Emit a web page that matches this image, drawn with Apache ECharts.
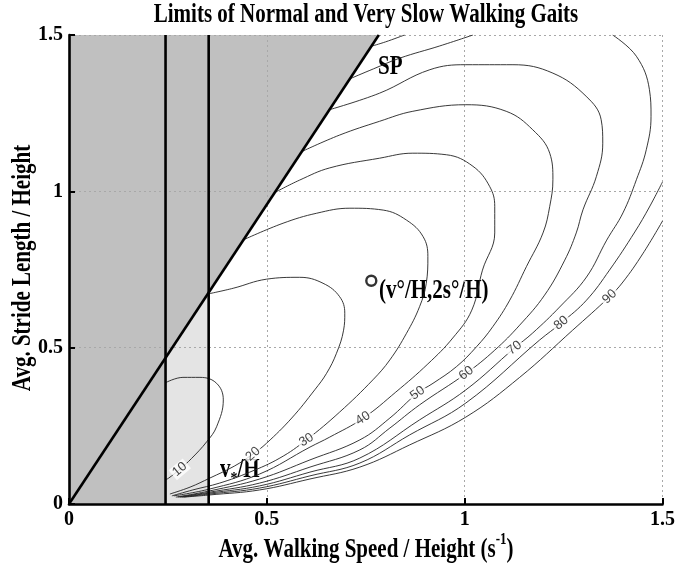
<!DOCTYPE html>
<html>
<head>
<meta charset="utf-8">
<script src="https://cdn.jsdelivr.net/npm/echarts@6/dist/echarts.min.js"></script>
<style>
  html, body { margin: 0; padding: 0; background: #fff; }
  #main { width: 678px; height: 567px; }
</style>
</head>
<body>
<div id="main"></div>
<script>
// speed limits (v/H) and the step-length line SP
var vMin = 0.244;
var vStar = 0.353;
var spLine = [[0, 0], [0.783, 1.5]];
var optimum = [[0.764, 0.714]];
var axisMax = 1.5;

// contour lines; each one is a list of visible pieces
var contour10 = [[[0.244, 0.388], [0.288, 0.405], [0.331, 0.405], [0.373, 0.386], [0.390, 0.333], [0.373, 0.247], [0.348, 0.199], [0.310, 0.146], [0.280, 0.111], [0.251, 0.082], [0.244, 0.078]]];
var contour20 = [[[0.352, 0.672], [0.415, 0.690], [0.499, 0.719], [0.583, 0.725], [0.642, 0.706], [0.684, 0.663], [0.697, 0.610], [0.694, 0.556], [0.676, 0.482], [0.651, 0.418], [0.621, 0.365], [0.563, 0.275], [0.499, 0.194], [0.465, 0.160], [0.419, 0.122], [0.356, 0.083], [0.306, 0.054], [0.255, 0.032]]];
var contour30 = [[[0.441, 0.845], [0.541, 0.898], [0.626, 0.930], [0.710, 0.946], [0.794, 0.940], [0.853, 0.908], [0.895, 0.855], [0.907, 0.791], [0.903, 0.706], [0.886, 0.631], [0.853, 0.546], [0.811, 0.461], [0.768, 0.397], [0.684, 0.294], [0.600, 0.205], [0.533, 0.147], [0.457, 0.102], [0.381, 0.067], [0.313, 0.045], [0.260, 0.026]]];
var contour40 = [[[0.520, 0.996], [0.583, 1.036], [0.659, 1.075], [0.785, 1.106], [0.869, 1.122], [0.954, 1.117], [1.021, 1.080], [1.063, 1.016], [1.076, 0.952], [1.076, 0.867], [1.045, 0.748], [1.018, 0.620], [0.970, 0.531], [0.907, 0.448], [0.826, 0.358], [0.743, 0.274], [0.659, 0.214], [0.609, 0.182], [0.482, 0.096], [0.356, 0.048], [0.265, 0.026]]];
var contour50 = [[[0.588, 1.127], [0.684, 1.180], [0.785, 1.224], [0.869, 1.256], [1.003, 1.277], [1.105, 1.256], [1.172, 1.197], [1.215, 1.122], [1.223, 1.037], [1.215, 0.952], [1.198, 0.867], [1.156, 0.759], [1.114, 0.652], [1.071, 0.567], [1.030, 0.503], [0.979, 0.439], [0.920, 0.386], [0.881, 0.355], [0.811, 0.275], [0.735, 0.205], [0.609, 0.141], [0.482, 0.080], [0.356, 0.042], [0.270, 0.022]]];
var contour60 = [[[0.658, 1.261], [0.785, 1.314], [0.912, 1.389], [1.003, 1.405], [1.122, 1.405], [1.223, 1.378], [1.307, 1.304], [1.345, 1.229], [1.349, 1.154], [1.333, 1.048], [1.299, 0.941], [1.282, 0.867], [1.253, 0.780], [1.202, 0.668], [1.139, 0.572], [1.076, 0.492], [1.004, 0.418], [0.886, 0.317], [0.811, 0.243], [0.735, 0.173], [0.609, 0.118], [0.482, 0.067], [0.356, 0.038], [0.275, 0.022]]];
var contour70 = [
  [[0.710, 1.360], [0.770, 1.392], [0.836, 1.426], [0.937, 1.465], [1.021, 1.500]],
  [[1.374, 1.500], [1.434, 1.432], [1.467, 1.325], [1.471, 1.240], [1.459, 1.133], [1.434, 1.037], [1.400, 0.931], [1.359, 0.844], [1.308, 0.726], [1.240, 0.630], [1.172, 0.547], [1.126, 0.499], [1.003, 0.365], [0.886, 0.269], [0.735, 0.147], [0.609, 0.102], [0.482, 0.058], [0.356, 0.035], [0.280, 0.022]]
];
var contour80 = [
  [[0.764, 1.464], [0.800, 1.478], [0.848, 1.500]],
  [[1.500, 1.030], [1.467, 0.950], [1.430, 0.870], [1.366, 0.748], [1.308, 0.652], [1.244, 0.579], [1.189, 0.524], [1.003, 0.323], [0.861, 0.221], [0.735, 0.131], [0.609, 0.090], [0.482, 0.051], [0.356, 0.032], [0.285, 0.022]]
];
var contour90 = [[[1.500, 0.905], [1.450, 0.800], [1.400, 0.710], [1.366, 0.663], [1.273, 0.556], [1.139, 0.405], [1.003, 0.278], [0.861, 0.189], [0.735, 0.118], [0.609, 0.080], [0.482, 0.045], [0.356, 0.029], [0.290, 0.022]]];

var contourLevels = ['10', '20', '30', '40', '50', '60', '70', '80', '90'];
var contourLines = [contour10, contour20, contour30, contour40, contour50, contour60, contour70, contour80, contour90];
// where each level label sits on its line
var labelPoints = [[0.280, 0.111], [0.465, 0.160], [0.600, 0.205], [0.743, 0.274], [0.881, 0.355], [1.004, 0.418], [1.126, 0.499], [1.244, 0.579], [1.366, 0.663]];

var labelAngles = [40, 42, 32, 33, 36, 38, 38, 40, 43];
var SERIF = '"Liberation Serif", "Times New Roman", serif';

var spSlope = spLine[1][1] / spLine[1][0];
var darkPoly = [[0, 0], [0, axisMax], spLine[1], [vMin, vMin * spSlope], [vMin, 0]];
var lightPoly = [[vMin, 0], [vMin, vMin * spSlope], [vStar, vStar * spSlope], [vStar, 0]];

function polygonSeries(points, color) {
  return {
    type: 'custom',
    silent: true,
    z: 1,
    data: [[0, 0]],
    renderItem: function (params, api) {
      return {
        type: 'polygon',
        shape: { points: points.map(function (p) { return api.coord(p); }) },
        style: { fill: color, stroke: null }
      };
    }
  };
}

function thickLine(points) {
  return {
    type: 'line', data: points, symbol: 'none', silent: true, z: 5,
    lineStyle: { color: '#000', width: 2.6 }
  };
}

// bold serif text pieces laid out left to right (for sub/superscripts)
var measure = document.createElement('canvas').getContext('2d');
function textRun(parts, x, y, align, rotation) {
  var children = [];
  var cx = 0;
  parts.forEach(function (p) {
    var font = 'bold ' + p[1] + 'px ' + SERIF;
    measure.font = font;
    var w = measure.measureText(p[0]).width;
    children.push({
      type: 'text', x: cx, y: p[2] || 0,
      style: { text: p[0], font: font, fill: '#000', textAlign: 'left', textVerticalAlign: 'middle' }
    });
    cx += w;
  });
  var shift = align === 'center' ? -cx / 2 : 0;
  children.forEach(function (c) { c.x += shift; });
  return { type: 'group', x: x, y: y, rotation: rotation || 0, scaleY: 1.25, children: children, z: 100 };
}

var series = [polygonSeries(darkPoly, '#c0c0c0'), polygonSeries(lightPoly, '#e4e4e4')];

contourLines.forEach(function (pieces) {
  pieces.forEach(function (piece) {
    series.push({
      type: 'line', data: piece, symbol: 'none', smooth: 0.4, silent: true, z: 4,
      lineStyle: { color: '#222', width: 0.9 }
    });
  });
});

series.push(thickLine([[vMin, 0], [vMin, axisMax]]));
series.push(thickLine([[vStar, 0], [vStar, axisMax]]));
series.push(thickLine(spLine));

series.push({
  type: 'scatter', symbolSize: 0, silent: true, z: 6,
  data: labelPoints.map(function (p, i) {
    return { value: [p[0], p[1], contourLevels[i]], label: { rotate: labelAngles[i] } };
  }),
  label: {
    show: true, position: 'inside', formatter: function (p) { return p.value[2]; },
    fontFamily: '"Liberation Sans", Arial, sans-serif', fontSize: 13, color: '#111',
    backgroundColor: '#fff', padding: [0, 2]
  }
});

series.push({
  type: 'scatter', data: optimum, symbol: 'circle', symbolSize: 10, silent: true, z: 7,
  itemStyle: { color: '#fff', borderColor: '#000', borderWidth: 2.4 }
});

var axisCommon = {
  type: 'value', min: 0, max: axisMax, interval: 0.5, z: 3,
  axisLine: { show: true, onZero: false, lineStyle: { color: '#000', width: 2.6 } },
  axisTick: { show: true, inside: true, length: 6, lineStyle: { color: '#000', width: 2 } },
  axisLabel: { color: '#000', fontFamily: SERIF, fontWeight: 'bold', fontSize: 20, margin: 6 },
  splitLine: { show: true, lineStyle: { color: '#a8a8a8', width: 1, type: [2, 3] } }
};

var chart = echarts.init(document.getElementById('main'));
chart.setOption({
  animation: false,
  grid: { left: 69, right: 15, top: 35, bottom: 63 },
  xAxis: axisCommon,
  yAxis: axisCommon,
  series: series,
  graphic: [
    textRun([['Limits of Normal and Very Slow Walking Gaits', 21]], 366, 15, 'center'),
    textRun([['Avg. Walking Speed / Height (s', 21], ['-1', 13, -8], [')', 21]], 366, 550, 'center'),
    textRun([['Avg. Stride Length / Height', 21]], 23, 268, 'center', Math.PI / 2),
    textRun([['v', 21], ['min', 14, 9], ['/H', 21]], 96, 63, 'left'),
    textRun([['v', 21], ['*', 14, 7], ['/H', 21]], 220, 470, 'left'),
    textRun([['SP', 21]], 378, 67, 'left'),
    textRun([['(v\u00b0/H,2s\u00b0/H)', 21]], 379, 291, 'left')
  ]
});
</script>
</body>
</html>
